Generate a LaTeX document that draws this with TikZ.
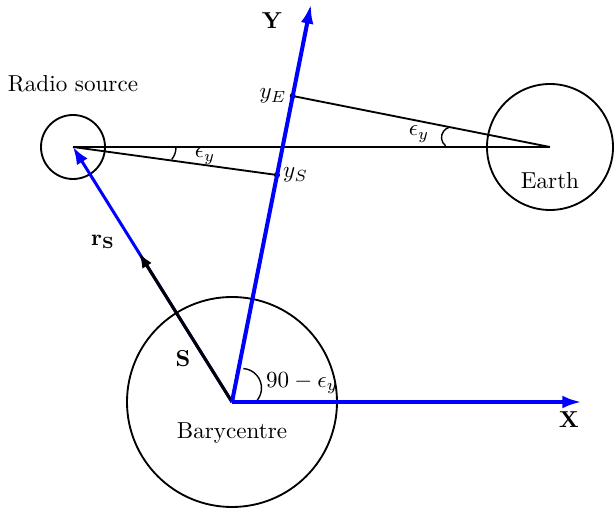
\documentclass[tikz,border=0pt]{standalone}
\usetikzlibrary{arrows.meta}
\begin{document}
\begin{tikzpicture}[x=0.433pt,y=-0.433pt,
  body/.style={circle,draw,line width=0.8pt,inner sep=0pt},
  blueax/.style={draw=blue,line width=1.75pt,-{Latex[length=8.5pt,width=5.5pt]}},
  bluevec/.style={draw=blue,line width=1.3pt,-{Latex[length=7.5pt,width=5.5pt]}},
  blackvec/.style={draw=black,line width=1.3pt,-{Latex[length=6.5pt,width=4.8pt]}},
  thinline/.style={line width=0.8pt},
  anglearc/.style={line width=0.6pt},
  dot/.style={circle,fill=black,inner sep=0pt,minimum size=2.6pt}]
\useasboundingbox (0,0) rectangle (614,509);
% coordinates
\coordinate (B) at (232,402);
\coordinate (R) at (73,147);
\coordinate (E) at (550,147);
\coordinate (Xt) at (582,402);
\coordinate (Yt) at (311,4);
\coordinate (Stip) at (139,253);
% bodies
\node[body,minimum size=210*0.433pt] (bary) at (B) {};
\node[body,minimum size=126*0.433pt] (earth) at (E) {};
\node[body,minimum size=64*0.433pt] (src) at (R) {};
% points on Y axis
\node[dot] (yE) at (292.7,96) {};
\node[dot] (yS) at (277,175) {};
% lines
\draw[thinline] (R) -- (E);
\draw[thinline] (E) -- (yE.center);
\draw[thinline] (R) -- (yS.center);
% angle arcs
\draw[anglearc] (452,137.5) ++(128:10.5) arc[start angle=128,end angle=251,radius=10.5];
\draw[anglearc] (176,147) .. controls (176,152) and (174.5,156) .. (171.7,159.5);
\draw[anglearc] (242,388) ++(-86:19.5) arc[start angle=-86,end angle=38.5,radius=19.5];
% vectors
\draw[bluevec] (B) -- (R);
\draw[blackvec] (B) -- (Stip);
\draw[blueax] (B) -- (Xt);
\draw[blueax] (B) -- (Yt);
% labels
\node (ylab) at (272,21) {\textbf{Y}};
\node (xlab) at (569,420) {\textbf{X}};
\node (srclab) at (73,84) {Radio source};
\node (earthlab) at (550,181) {Earth};
\node (barylab) at (232,433) {Barycentre};
\node (rslab) at (103,242) {$\mathbf{r}_\mathbf{S}$};
\node (slab) at (183,359) {$\mathbf{S}$};
\node (anglab) at (302,383) {$90-\epsilon_y$};
\node (e1lab) at (205,156) {$\epsilon_y$};
\node (e2lab) at (419,134) {$\epsilon_y$};
\node[left,inner sep=1pt] (yElab) at (yE.west) {$y_E$};
\node[right,inner sep=1pt] (ySlab) at (yS.east) {$y_S$};
\end{tikzpicture}
\end{document}
